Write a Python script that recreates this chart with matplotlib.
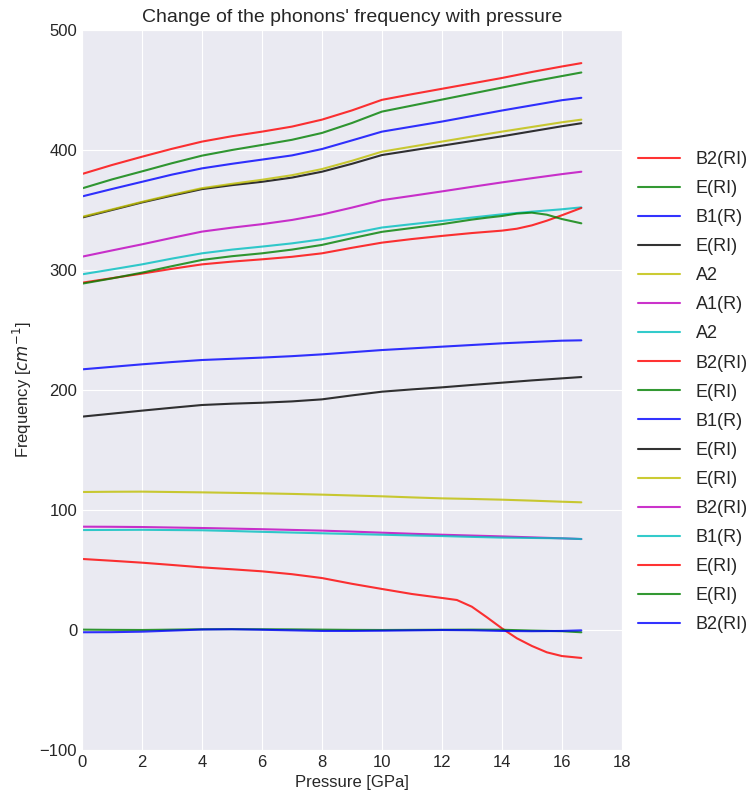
import matplotlib
matplotlib.use("Agg")
import matplotlib.pyplot as plt
import seaborn as sns

sns.set_style("darkgrid")
plt.rcParams['font.family'] = ['Liberation Sans', 'DejaVu Sans']

pressure = [0, 1, 2, 3, 4, 5, 6, 7, 8, 9, 10, 11, 12, 13, 14, 15, 16, 16.65]
pressure_fine = [0, 1, 2, 3, 4, 5, 6, 7, 8, 9, 10, 11, 12, 12.5, 13, 13.5, 14, 14.5, 15, 15.5, 16, 16.65]

labels = ["B2(RI)", "E(RI)", "B1(R)", "E(RI)", "A2", "A1(R)", "A2", "B2(RI)", "E(RI)",
          "B1(R)", "E(RI)", "E(RI)", "B2(RI)", "B1(R)", "E(RI)", "E(RI)", "B2(RI)"]

mode01 = [380, 387.5, 394.4, 401, 407, 411.5, 415.3, 419.5, 425.3, 433, 441.8, 446.5, 451, 455.5, 460, 465, 469.6, 472.4]
mode02 = [368, 375.5, 382.2, 389, 395.3, 400, 404.2, 408.5, 414.2, 422.5, 432, 437, 442, 447, 452, 457, 461.6, 464.6]
mode03 = [361.3, 367.5, 373.5, 379.5, 384.7, 388.5, 392, 395.5, 400.8, 408, 415.3, 419.5, 423.7, 428.3, 432.9, 437.2, 441.5, 443.5]
mode04 = [343.7, 350, 356.3, 362, 367.4, 370.7, 373.5, 377, 381.9, 388.5, 395.8, 399.7, 403.6, 407.5, 411.4, 415.6, 419.8, 422.3]
mode05 = [344.3, 350.5, 356.8, 362.7, 368.2, 371.8, 375.2, 379, 384.1, 391, 398.6, 402.8, 407, 411.2, 415.3, 419.2, 423.1, 425.3]
mode06 = [311.1, 316.3, 321.4, 326.8, 332, 335.3, 338.2, 341.7, 346.2, 352, 358.2, 361.8, 365.5, 369.3, 373, 376.5, 379.9, 381.9]
mode07 = [296.4, 300.5, 304.7, 309.5, 313.9, 317, 319.5, 322.2, 325.6, 330.5, 335.4, 338.2, 340.9, 343.7, 346.4, 348.6, 350.6, 352.2]
# fine grid
mode08 = [289.4, 293.2, 297, 301, 304.7, 307, 308.9, 311, 313.9, 318.5, 322.8, 325.8, 328.4, 329.6, 330.8, 331.8, 332.8, 334.4, 337.2, 341.1, 345.6, 351.7]
mode09 = [288.6, 293, 297.8, 303.2, 308.4, 311.5, 313.9, 317, 320.9, 326.5, 331.8, 335, 338.2, 340.1, 342, 343.6, 345, 347, 347.8, 346.1, 342.5, 338.9]
mode10 = [217.2, 219.3, 221.4, 223.3, 225, 226, 227, 228.2, 229.7, 231.5, 233.3, 234.7, 236.1, 237.5, 238.9, 240, 241.1, 241.4]
mode11 = [177.8, 180.3, 182.8, 185.2, 187.5, 188.6, 189.4, 190.5, 192.2, 195.5, 198.6, 200.5, 202.2, 204.2, 206.1, 208, 209.7, 210.8]
mode12 = [115, 115.2, 115.3, 115, 114.7, 114.3, 113.9, 113.4, 112.8, 112.1, 111.4, 110.5, 109.7, 109.2, 108.6, 107.8, 106.9, 106.4]
mode13 = [86.1, 86, 85.8, 85.4, 85, 84.5, 84, 83.4, 82.8, 82, 81.1, 80.2, 79.4, 78.7, 78, 77.2, 76.4, 75.8]
mode14 = [83.3, 83.4, 83.5, 83.3, 83.1, 82.5, 81.8, 81.2, 80.6, 80, 79.4, 78.8, 78.3, 77.6, 77, 76.7, 76.4, 75.8]
# fine grid
mode15 = [59.2, 57.7, 56.1, 54.2, 52.2, 50.6, 48.9, 46.5, 43.3, 38.5, 34.2, 30, 26.7, 25, 19.4, 10.6, 1.4, -6.9, -13.3, -18.6, -21.7, -23.3]
mode16 = [0.3, 0.1, 0, 0.3, 0.6, 0.7, 0.6, 0.5, 0.3, 0.1, 0, 0.1, 0.2, 0.3, 0.2, -0.5, -1, -1.9]
mode17 = [-1.9, -1.8, -1.4, -0.5, 0.4, 0.6, 0.2, -0.3, -0.8, -0.8, -0.6, -0.3, 0, -0.2, -0.8, -1, -0.8, -0.3]

modes = [mode01, mode02, mode03, mode04, mode05, mode06, mode07, mode08, mode09,
         mode10, mode11, mode12, mode13, mode14, mode15, mode16, mode17]

colors = [(1, 0, 0), (0, 0.5, 0), (0, 0, 1), (0, 0, 0), (0.75, 0.75, 0), (0.75, 0, 0.75), (0, 0.75, 0.75)]

fig = plt.figure(figsize=(7.56, 7.96), dpi=100)
ax = fig.add_axes([0.1085, 0.0578, 0.714, 0.9045])
for i, (vals, lab) in enumerate(zip(modes, labels)):
    xs = pressure_fine if len(vals) == len(pressure_fine) else pressure
    ax.plot(xs, vals, color=colors[i % 7], alpha=0.8, lw=1.5, label=lab)

ax.set_xlim(0, 18)
ax.set_ylim(-100, 500)
ax.set_xticks(range(0, 19, 2))
ax.set_yticks(range(-100, 501, 100))
ax.tick_params(labelsize=12, colors='#262626', length=0)
ax.set_xlabel("Pressure [GPa]", fontsize=12, color='#262626')
ax.set_ylabel("Frequency [$cm^{-1}$]", fontsize=12, color='#262626')
ax.set_title("Change of the phonons' frequency with pressure", fontsize=14, color='#262626')
ax.legend(loc='center left', bbox_to_anchor=(1.0, 0.497), frameon=False, fontsize=13,
          handlelength=2.3, handletextpad=0.9, labelspacing=0.67)

fig.savefig("out.png", dpi=100)
